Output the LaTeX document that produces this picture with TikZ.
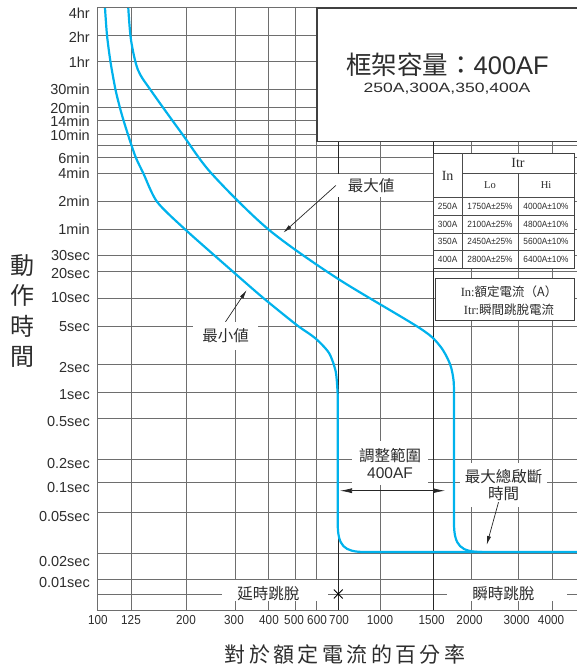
\documentclass[tikz,border=0pt]{standalone}
\usepackage{fontspec}
\usepackage{graphicx}
\setmainfont{Liberation Sans}
\newfontfamily\cjk{Noto Sans CJK TC}
\newfontfamily\cjkwide[LetterSpace=16]{Noto Sans CJK TC}
\newfontfamily\tabrm{Liberation Serif}
\usetikzlibrary{arrows.meta,shapes.misc}
\definecolor{curvecyan}{RGB}{0,178,236}
\definecolor{gridgray}{RGB}{110,110,110}
\definecolor{inkgray}{RGB}{45,45,45}
\tikzset{gridline/.style={draw=gridgray,line width=1pt},
	 darkline/.style={draw=black!85,line width=1pt},
	 tripcurve/.style={draw=curvecyan,line width=2.2pt,line join=round},
	 whitemask/.style={fill=white},
	 ylab/.style={anchor=east,inner sep=0pt,text=inkgray,font=\fontsize{14.5}{14.5}\selectfont},
	 xlab/.style={inner sep=0pt,text=inkgray,font=\fontsize{13}{13}\selectfont},
	 tag/.style={fill=white,inner sep=0pt,text=inkgray,align=center,font=\fontsize{15.5}{17}\selectfont\cjk},
	 pointer/.style={draw=black!85,line width=0.7pt,-{Latex[length=9pt,width=4pt]}},
	 spanarrow/.style={draw=black!85,line width=0.7pt,{Latex[length=12pt,width=5pt]}-{Latex[length=12pt,width=5pt]}},
	 tabline/.style={draw=black!70,line width=0.8pt},
	 cell/.style={inner sep=0pt,text=inkgray,font=\fontsize{9}{9}\selectfont},
	 hcell/.style={inner sep=0pt,text=inkgray,font=\fontsize{14}{14}\selectfont\tabrm}
	 }

\begin{document}
\begin{tikzpicture}[x=1pt,y=-1pt] % trip curve 400AF
        \useasboundingbox (0,0) rectangle (577,668);
        % grid
        \foreach \gx in {97.3,131,186.7,235,268.3,295.7,316.7,380,471,518.3,552.3}
          \draw[gridline] (\gx,8) -- (\gx,610);
        \foreach \gy in {8,35.3,62,89.7,108,120.3,134.7,145.3,158,173.7,201.7,229.3,255.3,271.7,298,326.7,364.3,392.3,418.3,459.3,482.7,512.7,553.3,579,594,610}
          \draw[gridline] (97.3,\gy) -- (577,\gy);
        \foreach \gx in {338.3,433.3}
          \draw[darkline] (\gx,8) -- (\gx,610);
        % curves
        \draw[tripcurve] plot[smooth,tension=0.45] coordinates {(105,8) (107,35.3) (110.5,62) (115.5,89.7) (120,108) (123.5,120.3) (128,134.7) (131.5,145.3) (136,158) (143.5,173.7) (157,201.7) (185,229.3) (233,271.7) (263.3,298) (296.7,325) (315,338) (329,353) (335.8,372) (337.7,395)}
          -- (337.7,523) .. controls (337.7,546) and (344,552) .. (365,552) -- (577,552);
        \draw[tripcurve] plot[smooth,tension=0.5] coordinates {(128.3,8) (131,40) (138,70) (152,92) (182.7,134.7) (211.7,173.7) (268.3,229.3) (336.7,278) (420,328.3) (440,346) (450,364) (453.5,380) (454,395)}
          -- (454,523) .. controls (454,546) and (461,552) .. (482,552);
        % axis labels
        \foreach \ly/\lt [count=\i] in {13/4hr,37.7/2hr,62/1hr,89/30min,108.7/20min,121.7/14min,135.7/10min,158/6min,173.7/4min,201.7/2min,229.3/1min,256/30sec,273.3/20sec,298/10sec,326.7/5sec,367.7/2sec,395/1sec,421.7/0.5sec,463.3/0.2sec,487.3/0.1sec,516.7/0.05sec,561.7/0.02sec,582.7/0.01sec}
          \node[ylab] (yl\i) at (90,\ly) {\lt};
        \foreach \lx/\lt [count=\i] in {97.8/100,131/125,186/200,234/300,269/400,294/500,317/600,339/700,380/1000,431.7/1500,469.5/2000,516.7/3000,551/4000}
          \node[xlab] (xl\i) at (\lx,620.5) {\scalebox{0.9}[1]{\lt}};
        \node[inner sep=0pt,text=inkgray,align=center,font=\fontsize{24}{30.5}\selectfont\cjk] (ytitle) at (22,311) {動\\作\\時\\間};
        \node[inner sep=0pt,text=inkgray,font=\fontsize{21}{21}\selectfont\cjkwide] (xtitle) at (345,654) {對於額定電流的百分率};
        % frame box
        \filldraw[fill=white,draw=black!75,line width=1.2pt] (317,8) rectangle (582,141.7);
        \node[inner sep=0pt,text=inkgray,font=\fontsize{25.5}{25.5}\selectfont] (frm) at (447.5,65) {{\cjk 框架容量：}400AF};
        \node[inner sep=0pt,text=inkgray,font=\fontsize{13.5}{13.5}\selectfont] (frmsub) at (447,89) {\scalebox{1.3}[1]{250A,300A,350,400A}};
        % table
        \filldraw[fill=white,draw=black!75,line width=1pt] (433.3,153.3) rectangle (574,268.3);
        \draw[tabline] (462,153.3) -- (462,268.3);
        \draw[tabline] (462,173.3) -- (574,173.3);
        \draw[tabline] (518,173.3) -- (518,268.3);
        \foreach \ty in {197.7,215.3,233,250.6}
          \draw[tabline] (433.3,\ty) -- (574,\ty);
        \node[hcell] (thin) at (447.6,175.5) {In};
        \node[hcell] (thitr) at (518,163.3) {Itr};
        \node[cell,font=\fontsize{10.5}{10.5}\selectfont\tabrm] (thlo) at (490,185.5) {Lo};
        \node[cell,font=\fontsize{10.5}{10.5}\selectfont\tabrm] (thhi) at (546,185.5) {Hi};
        \foreach \rin/\rlo/\rhi [count=\i] in {250A/1750A/4000A,300A/2100A/4800A,350A/2450A/5600A,400A/2800A/6400A}{
          \node[cell] (rin\i) at (447.6,188.9+17.65*\i) {\scalebox{0.92}[1]{\rin}};
          \node[cell] (rlo\i) at (490,188.9+17.65*\i) {\scalebox{0.92}[1]{\rlo±25\%}};
          \node[cell] (rhi\i) at (546,188.9+17.65*\i) {\scalebox{0.92}[1]{\rhi±10\%}};
        }
        \filldraw[fill=white,draw=black!75,line width=1pt] (435,278.3) rectangle (574,320);
        \node[inner sep=0pt,text=inkgray,align=center,font=\fontsize{12.5}{18.3}\selectfont\cjk] (inlbl) at (509,300.8) {{\tabrm In:}額定電流（A）\\{\tabrm Itr:}瞬間跳脫電流};
        % labels and arrows
        \node[tag,minimum width=70pt,minimum height=23pt] (maxlbl) at (371,185.5) {最大値};
        \node[tag,minimum width=65pt,minimum height=28pt] (minlbl) at (225.5,336) {最小値};
        \node[tag,minimum width=76pt,minimum height=44pt] (adjlbl) at (390,463) {調整範圍\\{\rmfamily 400AF}};
        \node[tag,minimum width=87pt,minimum height=44pt] (brklbl) at (503.5,485) {最大總啟斷\\時間};
        \coordinate (maxpt) at (283.3,232.7);
        \coordinate (minpt) at (246.7,290);
        \coordinate (brkpt) at (486.7,545);
        \coordinate (adjL) at (340,490.7);
        \coordinate (adjR) at (445,490.7);
        \draw[pointer] (maxlbl.west) -- (maxpt);
        \draw[pointer] (minlbl.north) -- (minpt);
        \draw[pointer] ([xshift=-5pt,yshift=5pt]brklbl.south) -- (brkpt);
        \draw[spanarrow] (adjL) -- (adjR);
        \fill[whitemask] (222,580) rectangle (328,601);
        \fill[whitemask] (447,580) rectangle (567,601);
        \node[tag,fill=none] (delaylbl) at (268.3,593.3) {延時跳脫};
        \node[tag,fill=none] (instlbl) at (503.3,593.3) {瞬時跳脫};
        \node[cross out,draw=black,line width=0.9pt,minimum size=8pt,inner sep=0pt] (splitx) at (338.3,594) {};
     \end{tikzpicture}
\end{document}
